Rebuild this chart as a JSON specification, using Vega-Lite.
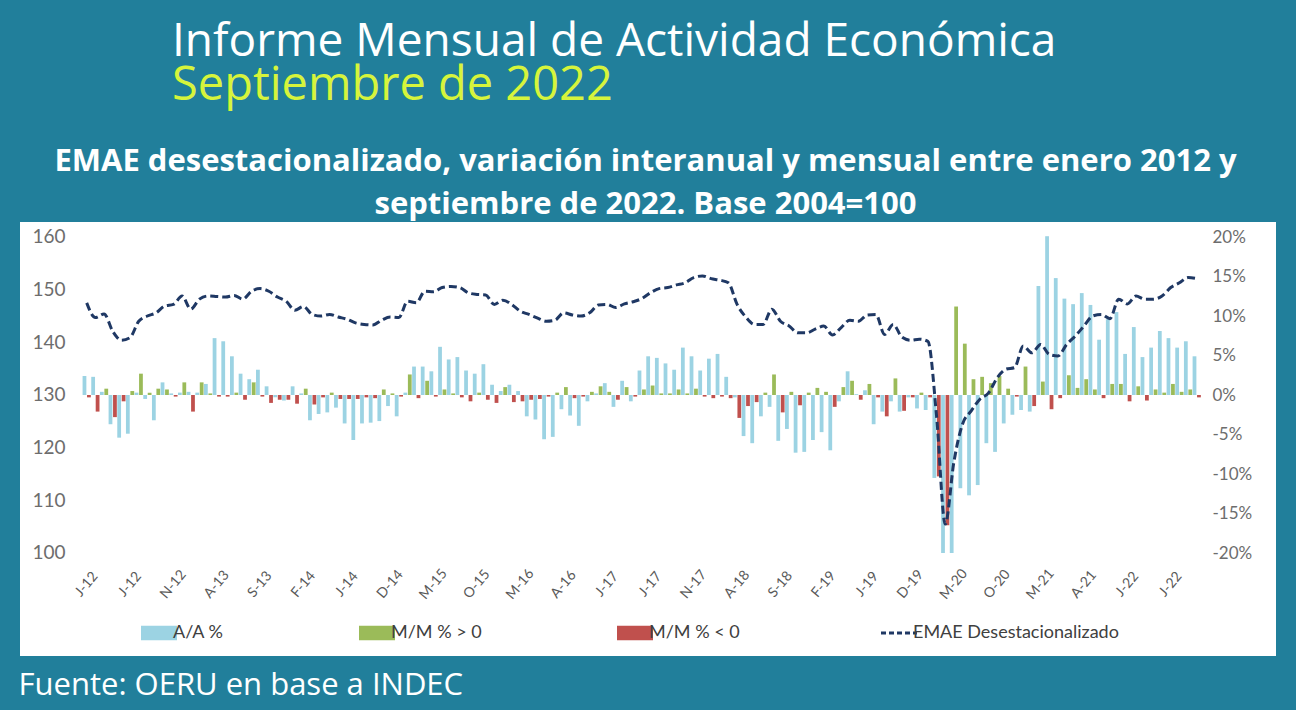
{
 "$schema": "https://vega.github.io/schema/vega-lite/v6.json",
 "width": 1256,
 "height": 434,
 "autosize": {"type": "none"},
 "padding": {"left": 20, "top": 222, "right": 20, "bottom": 54},
 "background": "#217f9b",
 "view": {"fill": "white", "stroke": null},
 "title": {
  "text": "Informe Mensual de Actividad Económica",
  "subtitle": "Septiembre de 2022",
  "anchor": "start",
  "frame": "group",
  "dx": 152,
  "offset": 35,
  "font": "Open Sans",
  "fontSize": 46,
  "fontWeight": "normal",
  "color": "white",
  "subtitleFont": "Open Sans",
  "subtitleFontSize": 47,
  "subtitleColor": "#d6f43c",
  "subtitlePadding": -3
 },
 "datasets": {
  "bars": [
{"m":"2012-01","k":"a","s":"A/A %","v":2.4},{"m":"2012-01","k":"b","s":"M/M % < 0","v":-0.3},
{"m":"2012-02","k":"a","s":"A/A %","v":2.3},{"m":"2012-02","k":"b","s":"M/M % < 0","v":-2.1},
{"m":"2012-03","k":"a","s":"A/A %","v":0.4},{"m":"2012-03","k":"b","s":"M/M % > 0","v":0.8},
{"m":"2012-04","k":"a","s":"A/A %","v":-3.7},{"m":"2012-04","k":"b","s":"M/M % < 0","v":-2.8},
{"m":"2012-05","k":"a","s":"A/A %","v":-5.4},{"m":"2012-05","k":"b","s":"M/M % < 0","v":-0.8},
{"m":"2012-06","k":"a","s":"A/A %","v":-4.9},{"m":"2012-06","k":"b","s":"M/M % > 0","v":0.5},
{"m":"2012-07","k":"a","s":"A/A %","v":0.3},{"m":"2012-07","k":"b","s":"M/M % > 0","v":2.7},
{"m":"2012-08","k":"a","s":"A/A %","v":-0.5},{"m":"2012-08","k":"b","s":"M/M % > 0","v":0.3},
{"m":"2012-09","k":"a","s":"A/A %","v":-3.2},{"m":"2012-09","k":"b","s":"M/M % > 0","v":0.8},
{"m":"2012-10","k":"a","s":"A/A %","v":1.6},{"m":"2012-10","k":"b","s":"M/M % > 0","v":0.7},
{"m":"2012-11","k":"a","s":"A/A %","v":0.2},{"m":"2012-11","k":"b","s":"M/M % < 0","v":-0.2},
{"m":"2012-12","k":"a","s":"A/A %","v":0.3},{"m":"2012-12","k":"b","s":"M/M % > 0","v":1.6},
{"m":"2013-01","k":"a","s":"A/A %","v":0.4},{"m":"2013-01","k":"b","s":"M/M % < 0","v":-2.1},
{"m":"2013-02","k":"a","s":"A/A %","v":0.3},{"m":"2013-02","k":"b","s":"M/M % > 0","v":1.6},
{"m":"2013-03","k":"a","s":"A/A %","v":1.4},{"m":"2013-03","k":"b","s":"M/M % > 0","v":0.2},
{"m":"2013-04","k":"a","s":"A/A %","v":7.2},{"m":"2013-04","k":"b","s":"M/M % < 0","v":-0.2},
{"m":"2013-05","k":"a","s":"A/A %","v":6.8},{"m":"2013-05","k":"b","s":"M/M % < 0","v":-0.2},
{"m":"2013-06","k":"a","s":"A/A %","v":4.9},{"m":"2013-06","k":"b","s":"M/M % > 0","v":0.3},
{"m":"2013-07","k":"a","s":"A/A %","v":2.7},{"m":"2013-07","k":"b","s":"M/M % < 0","v":-0.6},
{"m":"2013-08","k":"a","s":"A/A %","v":2.0},{"m":"2013-08","k":"b","s":"M/M % > 0","v":1.6},
{"m":"2013-09","k":"a","s":"A/A %","v":3.2},{"m":"2013-09","k":"b","s":"M/M % < 0","v":-0.2},
{"m":"2013-10","k":"a","s":"A/A %","v":1.1},{"m":"2013-10","k":"b","s":"M/M % < 0","v":-1.0},
{"m":"2013-11","k":"a","s":"A/A %","v":-0.3},{"m":"2013-11","k":"b","s":"M/M % < 0","v":-0.6},
{"m":"2013-12","k":"a","s":"A/A %","v":-0.7},{"m":"2013-12","k":"b","s":"M/M % < 0","v":-0.6},
{"m":"2014-01","k":"a","s":"A/A %","v":1.1},{"m":"2014-01","k":"b","s":"M/M % < 0","v":-1.1},
{"m":"2014-02","k":"a","s":"A/A %","v":0.2},{"m":"2014-02","k":"b","s":"M/M % > 0","v":0.8},
{"m":"2014-03","k":"a","s":"A/A %","v":-3.2},{"m":"2014-03","k":"b","s":"M/M % < 0","v":-1.2},
{"m":"2014-04","k":"a","s":"A/A %","v":-2.4},{"m":"2014-04","k":"b","s":"M/M % < 0","v":-0.3},
{"m":"2014-05","k":"a","s":"A/A %","v":-2.2},{"m":"2014-05","k":"b","s":"M/M % > 0","v":0.3},
{"m":"2014-06","k":"a","s":"A/A %","v":-1.6},{"m":"2014-06","k":"b","s":"M/M % < 0","v":-0.5},
{"m":"2014-07","k":"a","s":"A/A %","v":-3.6},{"m":"2014-07","k":"b","s":"M/M % < 0","v":-0.5},
{"m":"2014-08","k":"a","s":"A/A %","v":-5.7},{"m":"2014-08","k":"b","s":"M/M % < 0","v":-0.5},
{"m":"2014-09","k":"a","s":"A/A %","v":-3.6},{"m":"2014-09","k":"b","s":"M/M % < 0","v":-0.3},
{"m":"2014-10","k":"a","s":"A/A %","v":-3.5},{"m":"2014-10","k":"b","s":"M/M % < 0","v":-0.4},
{"m":"2014-11","k":"a","s":"A/A %","v":-3.3},{"m":"2014-11","k":"b","s":"M/M % > 0","v":0.7},
{"m":"2014-12","k":"a","s":"A/A %","v":-1.4},{"m":"2014-12","k":"b","s":"M/M % > 0","v":0.2},
{"m":"2015-01","k":"a","s":"A/A %","v":-2.7},{"m":"2015-01","k":"b","s":"M/M % < 0","v":-0.2},
{"m":"2015-02","k":"a","s":"A/A %","v":0.3},{"m":"2015-02","k":"b","s":"M/M % > 0","v":2.6},
{"m":"2015-03","k":"a","s":"A/A %","v":3.6},{"m":"2015-03","k":"b","s":"M/M % < 0","v":-0.4},
{"m":"2015-04","k":"a","s":"A/A %","v":3.6},{"m":"2015-04","k":"b","s":"M/M % > 0","v":1.8},
{"m":"2015-05","k":"a","s":"A/A %","v":3.0},{"m":"2015-05","k":"b","s":"M/M % < 0","v":-0.2},
{"m":"2015-06","k":"a","s":"A/A %","v":6.1},{"m":"2015-06","k":"b","s":"M/M % > 0","v":0.7},
{"m":"2015-07","k":"a","s":"A/A %","v":4.5},{"m":"2015-07","k":"b","s":"M/M % > 0","v":0.2},
{"m":"2015-08","k":"a","s":"A/A %","v":4.8},{"m":"2015-08","k":"b","s":"M/M % < 0","v":-0.3},
{"m":"2015-09","k":"a","s":"A/A %","v":3.1},{"m":"2015-09","k":"b","s":"M/M % < 0","v":-0.8},
{"m":"2015-10","k":"a","s":"A/A %","v":2.7},{"m":"2015-10","k":"b","s":"M/M % > 0","v":0.3},
{"m":"2015-11","k":"a","s":"A/A %","v":3.9},{"m":"2015-11","k":"b","s":"M/M % < 0","v":-0.6},
{"m":"2015-12","k":"a","s":"A/A %","v":1.3},{"m":"2015-12","k":"b","s":"M/M % < 0","v":-1.0},
{"m":"2016-01","k":"a","s":"A/A %","v":0.5},{"m":"2016-01","k":"b","s":"M/M % > 0","v":1.0},
{"m":"2016-02","k":"a","s":"A/A %","v":1.3},{"m":"2016-02","k":"b","s":"M/M % < 0","v":-0.9},
{"m":"2016-03","k":"a","s":"A/A %","v":0.5},{"m":"2016-03","k":"b","s":"M/M % < 0","v":-0.8},
{"m":"2016-04","k":"a","s":"A/A %","v":-2.7},{"m":"2016-04","k":"b","s":"M/M % < 0","v":-0.6},
{"m":"2016-05","k":"a","s":"A/A %","v":-3.1},{"m":"2016-05","k":"b","s":"M/M % < 0","v":-0.5},
{"m":"2016-06","k":"a","s":"A/A %","v":-5.6},{"m":"2016-06","k":"b","s":"M/M % < 0","v":-0.2},
{"m":"2016-07","k":"a","s":"A/A %","v":-5.3},{"m":"2016-07","k":"b","s":"M/M % > 0","v":0.3},
{"m":"2016-08","k":"a","s":"A/A %","v":-1.8},{"m":"2016-08","k":"b","s":"M/M % > 0","v":1.0},
{"m":"2016-09","k":"a","s":"A/A %","v":-2.6},{"m":"2016-09","k":"b","s":"M/M % < 0","v":-0.4},
{"m":"2016-10","k":"a","s":"A/A %","v":-3.9},{"m":"2016-10","k":"b","s":"M/M % < 0","v":-0.2},
{"m":"2016-11","k":"a","s":"A/A %","v":-0.8},{"m":"2016-11","k":"b","s":"M/M % > 0","v":0.4},
{"m":"2016-12","k":"a","s":"A/A %","v":0.2},{"m":"2016-12","k":"b","s":"M/M % > 0","v":1.1},
{"m":"2017-01","k":"a","s":"A/A %","v":1.5},{"m":"2017-01","k":"b","s":"M/M % > 0","v":0.4},
{"m":"2017-02","k":"a","s":"A/A %","v":-1.5},{"m":"2017-02","k":"b","s":"M/M % < 0","v":-0.6},
{"m":"2017-03","k":"a","s":"A/A %","v":1.8},{"m":"2017-03","k":"b","s":"M/M % > 0","v":1.0},
{"m":"2017-04","k":"a","s":"A/A %","v":-0.8},{"m":"2017-04","k":"b","s":"M/M % < 0","v":-0.2},
{"m":"2017-05","k":"a","s":"A/A %","v":3.1},{"m":"2017-05","k":"b","s":"M/M % > 0","v":0.7},
{"m":"2017-06","k":"a","s":"A/A %","v":4.9},{"m":"2017-06","k":"b","s":"M/M % > 0","v":1.2},
{"m":"2017-07","k":"a","s":"A/A %","v":4.7},{"m":"2017-07","k":"b","s":"M/M % > 0","v":0.2},
{"m":"2017-08","k":"a","s":"A/A %","v":4.0},{"m":"2017-08","k":"b","s":"M/M % > 0","v":0.2},
{"m":"2017-09","k":"a","s":"A/A %","v":3.2},{"m":"2017-09","k":"b","s":"M/M % > 0","v":0.7},
{"m":"2017-10","k":"a","s":"A/A %","v":6.0},{"m":"2017-10","k":"b","s":"M/M % > 0","v":0.2},
{"m":"2017-11","k":"a","s":"A/A %","v":4.9},{"m":"2017-11","k":"b","s":"M/M % > 0","v":0.8},
{"m":"2017-12","k":"a","s":"A/A %","v":3.1},{"m":"2017-12","k":"b","s":"M/M % < 0","v":-0.2},
{"m":"2018-01","k":"a","s":"A/A %","v":4.6},{"m":"2018-01","k":"b","s":"M/M % < 0","v":-0.4},
{"m":"2018-02","k":"a","s":"A/A %","v":5.2},{"m":"2018-02","k":"b","s":"M/M % < 0","v":-0.2},
{"m":"2018-03","k":"a","s":"A/A %","v":2.3},{"m":"2018-03","k":"b","s":"M/M % < 0","v":-0.4},
{"m":"2018-04","k":"a","s":"A/A %","v":-0.3},{"m":"2018-04","k":"b","s":"M/M % < 0","v":-2.9},
{"m":"2018-05","k":"a","s":"A/A %","v":-5.2},{"m":"2018-05","k":"b","s":"M/M % < 0","v":-1.4},
{"m":"2018-06","k":"a","s":"A/A %","v":-6.1},{"m":"2018-06","k":"b","s":"M/M % < 0","v":-0.9},
{"m":"2018-07","k":"a","s":"A/A %","v":-2.7},{"m":"2018-07","k":"b","s":"M/M % > 0","v":0.3},
{"m":"2018-08","k":"a","s":"A/A %","v":-1.5},{"m":"2018-08","k":"b","s":"M/M % > 0","v":2.6},
{"m":"2018-09","k":"a","s":"A/A %","v":-5.8},{"m":"2018-09","k":"b","s":"M/M % < 0","v":-2.2},
{"m":"2018-10","k":"a","s":"A/A %","v":-4.3},{"m":"2018-10","k":"b","s":"M/M % > 0","v":0.4},
{"m":"2018-11","k":"a","s":"A/A %","v":-7.3},{"m":"2018-11","k":"b","s":"M/M % < 0","v":-1.3},
{"m":"2018-12","k":"a","s":"A/A %","v":-7.2},{"m":"2018-12","k":"b","s":"M/M % > 0","v":0.3},
{"m":"2019-01","k":"a","s":"A/A %","v":-5.7},{"m":"2019-01","k":"b","s":"M/M % > 0","v":0.9},
{"m":"2019-02","k":"a","s":"A/A %","v":-4.7},{"m":"2019-02","k":"b","s":"M/M % > 0","v":0.4},
{"m":"2019-03","k":"a","s":"A/A %","v":-7.0},{"m":"2019-03","k":"b","s":"M/M % < 0","v":-1.5},
{"m":"2019-04","k":"a","s":"A/A %","v":-0.8},{"m":"2019-04","k":"b","s":"M/M % > 0","v":1.0},
{"m":"2019-05","k":"a","s":"A/A %","v":3.0},{"m":"2019-05","k":"b","s":"M/M % > 0","v":1.8},
{"m":"2019-06","k":"a","s":"A/A %","v":0.1},{"m":"2019-06","k":"b","s":"M/M % < 0","v":-0.6},
{"m":"2019-07","k":"a","s":"A/A %","v":0.6},{"m":"2019-07","k":"b","s":"M/M % > 0","v":1.4},
{"m":"2019-08","k":"a","s":"A/A %","v":-3.7},{"m":"2019-08","k":"b","s":"M/M % < 0","v":-0.3},
{"m":"2019-09","k":"a","s":"A/A %","v":-2.1},{"m":"2019-09","k":"b","s":"M/M % < 0","v":-2.7},
{"m":"2019-10","k":"a","s":"A/A %","v":-0.8},{"m":"2019-10","k":"b","s":"M/M % > 0","v":2.1},
{"m":"2019-11","k":"a","s":"A/A %","v":-2.1},{"m":"2019-11","k":"b","s":"M/M % < 0","v":-2.0},
{"m":"2019-12","k":"a","s":"A/A %","v":-0.3},{"m":"2019-12","k":"b","s":"M/M % < 0","v":-0.3},
{"m":"2020-01","k":"a","s":"A/A %","v":-1.7},{"m":"2020-01","k":"b","s":"M/M % > 0","v":0.3},
{"m":"2020-02","k":"a","s":"A/A %","v":-1.9},{"m":"2020-02","k":"b","s":"M/M % < 0","v":-0.3},
{"m":"2020-03","k":"a","s":"A/A %","v":-10.5},{"m":"2020-03","k":"b","s":"M/M % < 0","v":-10.3},
{"m":"2020-04","k":"a","s":"A/A %","v":-20.0},{"m":"2020-04","k":"b","s":"M/M % < 0","v":-16.5},
{"m":"2020-05","k":"a","s":"A/A %","v":-20.0},{"m":"2020-05","k":"b","s":"M/M % > 0","v":11.2},
{"m":"2020-06","k":"a","s":"A/A %","v":-11.8},{"m":"2020-06","k":"b","s":"M/M % > 0","v":6.5},
{"m":"2020-07","k":"a","s":"A/A %","v":-12.7},{"m":"2020-07","k":"b","s":"M/M % > 0","v":2.0},
{"m":"2020-08","k":"a","s":"A/A %","v":-11.4},{"m":"2020-08","k":"b","s":"M/M % > 0","v":2.3},
{"m":"2020-09","k":"a","s":"A/A %","v":-6.1},{"m":"2020-09","k":"b","s":"M/M % > 0","v":1.5},
{"m":"2020-10","k":"a","s":"A/A %","v":-7.2},{"m":"2020-10","k":"b","s":"M/M % > 0","v":2.4},
{"m":"2020-11","k":"a","s":"A/A %","v":-3.6},{"m":"2020-11","k":"b","s":"M/M % > 0","v":0.8},
{"m":"2020-12","k":"a","s":"A/A %","v":-2.5},{"m":"2020-12","k":"b","s":"M/M % < 0","v":-0.2},
{"m":"2021-01","k":"a","s":"A/A %","v":-1.9},{"m":"2021-01","k":"b","s":"M/M % > 0","v":3.6},
{"m":"2021-02","k":"a","s":"A/A %","v":-2.1},{"m":"2021-02","k":"b","s":"M/M % < 0","v":-1.4},
{"m":"2021-03","k":"a","s":"A/A %","v":13.8},{"m":"2021-03","k":"b","s":"M/M % > 0","v":1.7},
{"m":"2021-04","k":"a","s":"A/A %","v":20.1},{"m":"2021-04","k":"b","s":"M/M % < 0","v":-1.8},
{"m":"2021-05","k":"a","s":"A/A %","v":14.8},{"m":"2021-05","k":"b","s":"M/M % < 0","v":-0.4},
{"m":"2021-06","k":"a","s":"A/A %","v":12.2},{"m":"2021-06","k":"b","s":"M/M % > 0","v":2.5},
{"m":"2021-07","k":"a","s":"A/A %","v":11.5},{"m":"2021-07","k":"b","s":"M/M % > 0","v":0.9},
{"m":"2021-08","k":"a","s":"A/A %","v":12.9},{"m":"2021-08","k":"b","s":"M/M % > 0","v":2.0},
{"m":"2021-09","k":"a","s":"A/A %","v":11.4},{"m":"2021-09","k":"b","s":"M/M % > 0","v":0.7},
{"m":"2021-10","k":"a","s":"A/A %","v":7.0},{"m":"2021-10","k":"b","s":"M/M % < 0","v":-0.4},
{"m":"2021-11","k":"a","s":"A/A %","v":9.6},{"m":"2021-11","k":"b","s":"M/M % > 0","v":1.4},
{"m":"2021-12","k":"a","s":"A/A %","v":10.5},{"m":"2021-12","k":"b","s":"M/M % > 0","v":1.4},
{"m":"2022-01","k":"a","s":"A/A %","v":5.2},{"m":"2022-01","k":"b","s":"M/M % < 0","v":-0.8},
{"m":"2022-02","k":"a","s":"A/A %","v":8.6},{"m":"2022-02","k":"b","s":"M/M % > 0","v":1.1},
{"m":"2022-03","k":"a","s":"A/A %","v":4.8},{"m":"2022-03","k":"b","s":"M/M % < 0","v":-0.7},
{"m":"2022-04","k":"a","s":"A/A %","v":6.0},{"m":"2022-04","k":"b","s":"M/M % > 0","v":0.7},
{"m":"2022-05","k":"a","s":"A/A %","v":8.1},{"m":"2022-05","k":"b","s":"M/M % > 0","v":0.3},
{"m":"2022-06","k":"a","s":"A/A %","v":7.2},{"m":"2022-06","k":"b","s":"M/M % > 0","v":1.4},
{"m":"2022-07","k":"a","s":"A/A %","v":6.0},{"m":"2022-07","k":"b","s":"M/M % > 0","v":0.4},
{"m":"2022-08","k":"a","s":"A/A %","v":6.8},{"m":"2022-08","k":"b","s":"M/M % > 0","v":0.7},
{"m":"2022-09","k":"a","s":"A/A %","v":4.9},{"m":"2022-09","k":"b","s":"M/M % < 0","v":-0.3}
  ],
  "emae": [
{"m":"2012-01","e":147.5},{"m":"2012-02","e":144.7},{"m":"2012-03","e":145.4},{"m":"2012-04","e":142.1},{"m":"2012-05","e":140.4},{"m":"2012-06","e":140.9},
{"m":"2012-07","e":144.0},{"m":"2012-08","e":145.0},{"m":"2012-09","e":145.6},{"m":"2012-10","e":146.9},{"m":"2012-11","e":147.2},{"m":"2012-12","e":148.8},
{"m":"2013-01","e":146.3},{"m":"2013-02","e":148.2},{"m":"2013-03","e":148.8},{"m":"2013-04","e":148.7},{"m":"2013-05","e":148.6},{"m":"2013-06","e":148.9},
{"m":"2013-07","e":148.2},{"m":"2013-08","e":149.7},{"m":"2013-09","e":150.2},{"m":"2013-10","e":149.7},{"m":"2013-11","e":148.6},{"m":"2013-12","e":147.8},
{"m":"2014-01","e":146.1},{"m":"2014-02","e":146.8},{"m":"2014-03","e":145.3},{"m":"2014-04","e":145.0},{"m":"2014-05","e":145.3},{"m":"2014-06","e":144.8},
{"m":"2014-07","e":144.4},{"m":"2014-08","e":143.7},{"m":"2014-09","e":143.4},{"m":"2014-10","e":143.3},{"m":"2014-11","e":144.2},{"m":"2014-12","e":144.8},
{"m":"2015-01","e":144.7},{"m":"2015-02","e":147.8},{"m":"2015-03","e":147.5},{"m":"2015-04","e":149.7},{"m":"2015-05","e":149.6},{"m":"2015-06","e":150.4},
{"m":"2015-07","e":150.6},{"m":"2015-08","e":150.4},{"m":"2015-09","e":149.4},{"m":"2015-10","e":149.1},{"m":"2015-11","e":149.0},{"m":"2015-12","e":147.2},
{"m":"2016-01","e":148.0},{"m":"2016-02","e":147.2},{"m":"2016-03","e":145.9},{"m":"2016-04","e":145.3},{"m":"2016-05","e":144.6},{"m":"2016-06","e":144.0},
{"m":"2016-07","e":144.2},{"m":"2016-08","e":145.6},{"m":"2016-09","e":145.2},{"m":"2016-10","e":145.0},{"m":"2016-11","e":145.6},{"m":"2016-12","e":147.1},
{"m":"2017-01","e":147.2},{"m":"2017-02","e":146.6},{"m":"2017-03","e":147.3},{"m":"2017-04","e":147.7},{"m":"2017-05","e":148.3},{"m":"2017-06","e":149.4},
{"m":"2017-07","e":150.2},{"m":"2017-08","e":150.4},{"m":"2017-09","e":150.9},{"m":"2017-10","e":151.3},{"m":"2017-11","e":152.3},{"m":"2017-12","e":152.6},
{"m":"2018-01","e":152.1},{"m":"2018-02","e":151.8},{"m":"2018-03","e":151.3},{"m":"2018-04","e":147.2},{"m":"2018-05","e":144.8},{"m":"2018-06","e":143.4},
{"m":"2018-07","e":143.4},{"m":"2018-08","e":146.3},{"m":"2018-09","e":144.0},{"m":"2018-10","e":143.1},{"m":"2018-11","e":141.8},{"m":"2018-12","e":141.8},
{"m":"2019-01","e":142.5},{"m":"2019-02","e":143.1},{"m":"2019-03","e":141.4},{"m":"2019-04","e":142.8},{"m":"2019-05","e":144.2},{"m":"2019-06","e":144.0},
{"m":"2019-07","e":145.2},{"m":"2019-08","e":145.3},{"m":"2019-09","e":141.5},{"m":"2019-10","e":143.4},{"m":"2019-11","e":141.0},{"m":"2019-12","e":140.4},
{"m":"2020-01","e":140.6},{"m":"2020-02","e":140.2},{"m":"2020-03","e":126.0},{"m":"2020-04","e":105.5},{"m":"2020-05","e":117.3},{"m":"2020-06","e":124.5},
{"m":"2020-07","e":127.0},{"m":"2020-08","e":129.2},{"m":"2020-09","e":130.4},{"m":"2020-10","e":133.3},{"m":"2020-11","e":134.9},{"m":"2020-12","e":135.2},
{"m":"2021-01","e":139.3},{"m":"2021-02","e":138.0},{"m":"2021-03","e":139.6},{"m":"2021-04","e":137.7},{"m":"2021-05","e":137.4},{"m":"2021-06","e":139.6},
{"m":"2021-07","e":141.2},{"m":"2021-08","e":143.1},{"m":"2021-09","e":145.0},{"m":"2021-10","e":145.3},{"m":"2021-11","e":144.5},{"m":"2021-12","e":148.2},
{"m":"2022-01","e":147.3},{"m":"2022-02","e":148.8},{"m":"2022-03","e":148.2},{"m":"2022-04","e":148.2},{"m":"2022-05","e":148.8},{"m":"2022-06","e":150.4},
{"m":"2022-07","e":151.3},{"m":"2022-08","e":152.3},{"m":"2022-09","e":152.1}
  ]
 },
 "encoding": {
  "x": {
   "field": "m",
   "type": "ordinal",
   "scale": {"range": [62.36, 1181.06], "paddingInner": 0, "paddingOuter": 0},
   "axis": {
    "orient": "bottom",
    "offset": -94,
    "values": ["2012-01","2012-06","2012-11","2013-04","2013-09","2014-02","2014-07","2014-12","2015-05","2015-10","2016-03","2016-08","2017-01","2017-06","2017-11","2018-04","2018-09","2019-02","2019-07","2019-12","2020-05","2020-10","2021-03","2021-08","2022-01","2022-06"],
    "labelExpr": "['J','F','M','A','M','J','J','A','S','O','N','D'][toNumber(slice(datum.value,5,7))-1] + '-' + slice(datum.value,2,4)",
    "labelAngle": -50,
    "labelAlign": "center",
    "labelBaseline": "middle",
    "labelPadding": 22,
    "labelFont": "Lato",
    "labelFontSize": 14,
    "labelColor": "#595959",
    "labelOverlap": false,
    "title": "Fuente: OERU en base a INDEC",
    "titleX": -2,
    "titleY": 132,
    "titleAlign": "left",
    "titleBaseline": "alphabetic",
    "titleAngle": 0,
    "titleFont": "Open Sans",
    "titleFontSize": 31,
    "titleFontWeight": "normal",
    "titleColor": "white"
   }
  }
 },
 "layer": [
  {
   "data": {"name": "bars"},
   "mark": {"type": "bar"},
   "encoding": {
    "xOffset": {"field": "k", "type": "nominal", "scale": {"paddingInner": 0.15, "paddingOuter": 0.05}},
    "y": {
     "field": "v",
     "type": "quantitative",
     "scale": {"domain": [-33.038, 21.899], "nice": false, "zero": false},
     "axis": {
      "orient": "right",
      "offset": -69,
      "values": [-20, -15, -10, -5, 0, 5, 10, 15, 20],
      "labelExpr": "datum.value + '%'",
      "labelFont": "Lato",
      "labelFontSize": 17,
      "labelColor": "#6d6d6d",
      "labelPadding": 5,
      "tickSize": 0,
      "title": null
     }
    },
    "y2": {"datum": 0},
    "color": {
     "field": "s",
     "type": "nominal",
     "scale": {
      "domain": ["A/A %", "M/M % > 0", "M/M % < 0", "EMAE Desestacionalizado"],
      "range": ["#9cd3e3", "#9bbb59", "#c0504d", "#1f3864"]
     },
     "legend": {
      "orient": "none",
      "legendX": 130,
      "legendY": 402,
      "direction": "horizontal",
      "columns": 4,
      "columnPadding": 135,
      "title": null,
      "padding": 0,
      "symbolSize": 1296,
      "labelFont": "Lato",
      "labelFontSize": 18,
      "labelColor": "#404040",
      "labelOffset": 5,
      "labelLimit": 400,
      "encode": {
       "symbols": {
        "update": {
         "shape": {"signal": "datum.value === 'EMAE Desestacionalizado' ? 'stroke' : 'M-1,-0.4H1V0.4H-1Z'"},
         "fill": {"signal": "datum.value === 'A/A %' ? '#9cd3e3' : datum.value === 'M/M % > 0' ? '#9bbb59' : datum.value === 'M/M % < 0' ? '#c0504d' : 'transparent'"},
         "stroke": {"signal": "datum.value === 'EMAE Desestacionalizado' ? '#1f3864' : 'transparent'"},
         "strokeWidth": {"signal": "datum.value === 'EMAE Desestacionalizado' ? 3 : 0"},
         "strokeDash": {"signal": "datum.value === 'EMAE Desestacionalizado' ? [5, 3] : [1, 0]"},
         "opacity": {"value": 1}
        }
       }
      }
     }
    }
   }
  },
  {
   "data": {"name": "emae"},
   "mark": {"type": "line", "color": "#1f3864", "strokeWidth": 3, "strokeDash": [8, 4], "interpolate": "monotone"},
   "encoding": {
    "y": {
     "field": "e",
     "type": "quantitative",
     "scale": {"domain": [80.443, 162.848], "nice": false, "zero": false},
     "axis": {
      "orient": "left",
      "offset": -50,
      "values": [100, 110, 120, 130, 140, 150, 160],
      "labelFont": "Lato",
      "labelFontSize": 19,
      "labelColor": "#6d6d6d",
      "labelPadding": 5,
      "tickSize": 0,
      "title": ["EMAE desestacionalizado, variación interanual y mensual entre enero 2012 y", "septiembre de 2022. Base 2004=100"],
      "titleX": 575,
      "titleY": -52,
      "titleAngle": 0,
      "titleAlign": "center",
      "titleBaseline": "alphabetic",
      "titleLineHeight": 43,
      "titleFont": "Open Sans",
      "titleFontSize": 31,
      "titleFontWeight": "bold",
      "titleColor": "white"
     }
    }
   }
  }
 ],
 "resolve": {"scale": {"y": "independent"}},
 "config": {
  "axis": {"grid": false, "domain": false, "ticks": false}
 }
}
